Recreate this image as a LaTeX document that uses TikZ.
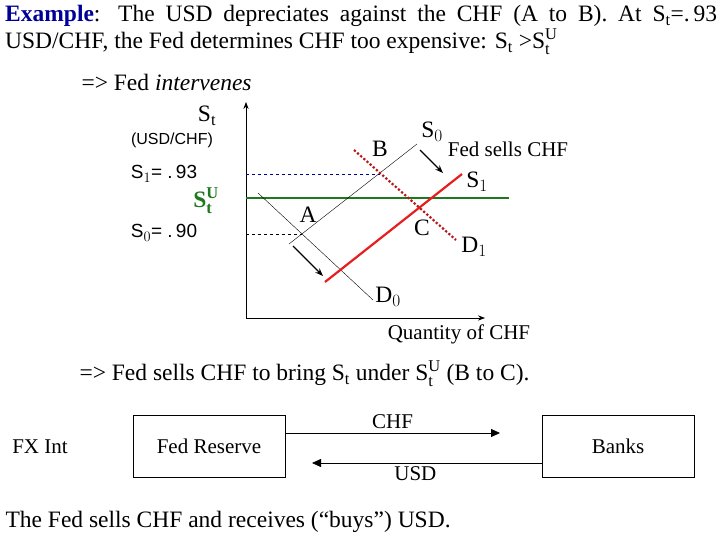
\documentclass[tikz,border=0pt]{standalone}
\usepackage{fontspec}
\setmainfont{Liberation Serif}
\newfontfamily\arialfont{Liberation Sans}
\usetikzlibrary{arrows.meta}
\definecolor{exblue}{RGB}{0,0,153}
\definecolor{fxgreen}{RGB}{30,120,30}
\definecolor{fxred}{RGB}{230,30,30}
\begin{document}
\begin{tikzpicture}[
    x=1pt, y=-1pt,
    axis/.style={-{Stealth[length=7pt]}, thick},
    curve/.style={thin},
    shifted/.style={line width=2.2pt, fxred},
    guide/.style={dashed, thin},
    push/.style={-{Stealth[length=8pt]}, line width=1.3pt},
    box/.style={draw, thin, minimum width=152pt, minimum height=62pt, font=\fontsize{21}{24}\selectfont},
    flow/.style={-{Triangle[length=9pt,width=8pt]}, thick},
    big/.style={font=\fontsize{23.5}{27}\selectfont},
    mid/.style={font=\fontsize{21}{24}\selectfont},
    small/.style={font=\arialfont\fontsize{16}{18}\selectfont}
]
    \useasboundingbox (0,0) rectangle (720,540);

    % Heading
    \node[big, anchor=north west, inner sep=0pt, text width=712pt, align=justify] (head) at (5,5)
        {\textcolor{exblue}{\textbf{Example}}: The USD depreciates against the CHF (A to B). At S$_\mathrm{t}$=.\,93\linebreak USD/CHF, the Fed determines CHF too expensive: S$_\mathrm{t}$ >S$_\mathrm{t}^\mathrm{U}$};
    \node[big, anchor=west] (fed) at (78,82) {=> Fed \textit{intervenes}};

    % Axes
    \coordinate (o) at (246,318);
    \coordinate (ytop) at (246,102);
    \coordinate (xend) at (485,318);
    \draw[axis] (o) -- (ytop);
    \draw[axis] (o) -- (xend);

    % Guide lines
    \coordinate (g1) at (246,174); \coordinate (b) at (380,174);
    \coordinate (g0) at (246,234); \coordinate (a) at (302,234);
    \draw[guide, exblue] (g1) -- (b);
    \draw[guide] (g0) -- (a);
    \coordinate (u0) at (246,198); \coordinate (u1) at (509,198);
    \draw[fxgreen, line width=1.6pt] (u0) -- (u1);

    % Supply and demand
    \coordinate (s0a) at (289,244); \coordinate (s0b) at (417,144);
    \coordinate (d0a) at (258,193); \coordinate (d0b) at (373,300);
    \coordinate (s1a) at (325,282); \coordinate (s1b) at (462,174);
    \coordinate (d1a) at (354,150); \coordinate (d1b) at (456,240);
    \draw[curve] (s0a) -- (s0b);
    \draw[curve] (d0a) -- (d0b);
    \draw[shifted] (s1a) -- (s1b);
    \draw[fxred!80!black, line width=2.2pt, dotted] (d1a) -- (d1b);

    % Shift arrows
    \coordinate (p0) at (420,150); \coordinate (p1) at (443,173);
    \coordinate (q0) at (293,246); \coordinate (q1) at (323,276);
    \draw[push] (p0) -- (p1);
    \draw[push] (q0) -- (q1);

    % Labels
    \node[big] (st) at (207,116) {S$_\mathrm{t}$};
    \node[small] (unit) at (172,140) {(USD/CHF)};
    \node[font=\arialfont\fontsize{19}{22}\selectfont] (s1v) at (164,174) {S$_1$= .\,93};
    \node[big, fxgreen] (stu) at (206,201) {$\mathbf{S_t^U}$};
    \node[font=\arialfont\fontsize{19}{22}\selectfont] (s0v) at (164,233) {S$_0$= .\,90};
    \node[big] (lb) at (380,149) {B};
    \node[big] (ls0) at (432,132) {S$_0$};
    \node[mid] (lsell) at (508,149) {Fed sells CHF};
    \node[big] (ls1) at (477,182) {S$_1$};
    \node[big] (la) at (308,215) {A};
    \node[big] (lc) at (422,228) {C};
    \node[big] (ld1) at (474,247) {D$_1$};
    \node[big] (ld0) at (388,297) {D$_0$};
    \node[mid] (lq) at (459,334) {Quantity of CHF};

    \node[big, anchor=west] (bring) at (76,374) {=> Fed sells CHF to bring S$_\mathrm{t}$ under S$_\mathrm{t}^\mathrm{U}$ (B to C).};

    % FX intervention
    \node[font=\fontsize{21}{24}\selectfont] (fx) at (40,447) {FX Int};
    \node[box] (fr) at (209,446) {Fed Reserve};
    \node[box] (bk) at (618,446) {Banks};
    \coordinate (chfend) at (500,433);
    \coordinate (usdend) at (312,463);
    \draw[flow] (fr.east |- chfend) -- (chfend) node[midway, above=1pt, font=\fontsize{21}{24}\selectfont] (lchf) {CHF};
    \draw[flow] (bk.west |- usdend) -- (usdend) node[pos=0.55, below=0pt, font=\fontsize{21}{24}\selectfont] (lusd) {USD};

    \node[big, anchor=west] (end) at (2,522) {The Fed sells CHF and receives (“buys”) USD.};
\end{tikzpicture}
\end{document}
